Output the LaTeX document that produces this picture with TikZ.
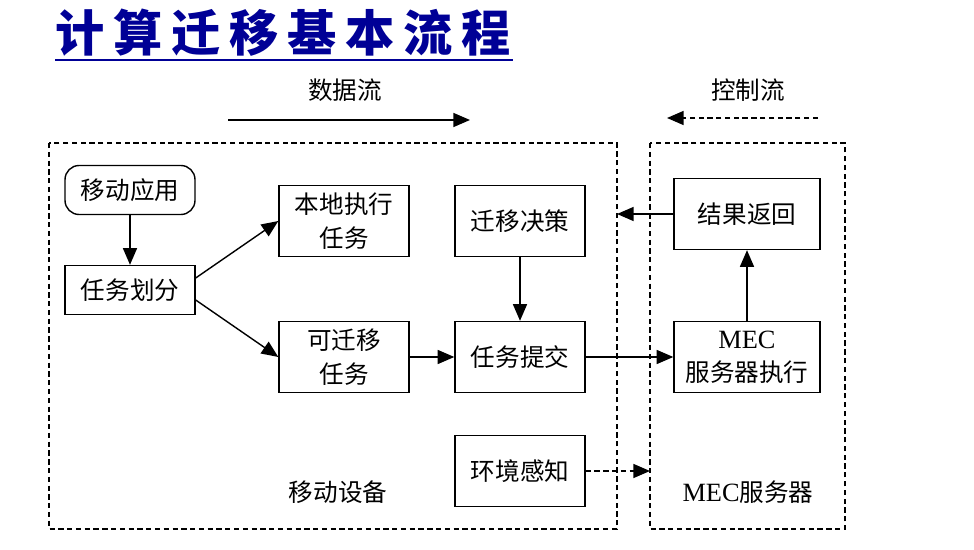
\documentclass[tikz,border=0pt]{standalone}
\usepackage{fontspec}
\usepackage{tikz}
\setmainfont{Liberation Serif}
\newfontfamily\cjkfont{Noto Sans CJK SC}
\newcommand{\zh}{\cjkfont\fontsize{14pt}{19pt}\selectfont}
\newcommand{\mec}{{\rmfamily\fontsize{15pt}{19pt}\selectfont MEC}}
\definecolor{titleblue}{RGB}{0,0,150}
\usetikzlibrary{arrows.meta}
\tikzset{
  >={Triangle[length=9.5pt,width=8pt]},
  box/.style={draw, line width=0.8pt, minimum width=2.6cm, minimum height=1.42cm, align=center, font=\zh},
  smallbox/.style={box, minimum height=0.98cm},
  areabox/.style={draw, line width=0.6pt, dash pattern=on 3pt off 2pt},
  flow/.style={->, line width=0.8pt},
  ctrl/.style={->, line width=0.8pt, dash pattern=on 3pt off 2pt},
  lbl/.style={font=\zh}
}

\begin{document}
\begin{tikzpicture}[x=0.02cm, y=-0.02cm]
    \useasboundingbox (0,0) rectangle (974,550);
    % title
    \node[font=\cjkfont\bfseries\fontsize{28pt}{32pt}\selectfont, text=titleblue] (title) at (283,33)
      {计\hspace{5pt}算\hspace{5pt}迁\hspace{5pt}移\hspace{5pt}基\hspace{5pt}本\hspace{5pt}流\hspace{5pt}程};
    \draw[titleblue, line width=1.6pt] (55,60) -- (513,60);
    % legend
    \node[lbl] (datalbl) at (345,90) {数据流};
    \coordinate (d1) at (228,120);
    \coordinate (d2) at (470,120);
    \draw[flow] (d1) -- (d2);
    \node[lbl] (ctrllbl) at (748,90) {控制流};
    \coordinate (c1) at (818,118);
    \coordinate (c2) at (667,118);
    \draw[ctrl] (c1) -- (c2);
    % areas
    \draw[areabox] (49,143) rectangle (617,529);
    \draw[areabox] (650,143) rectangle (845,529);
    \coordinate (leftedge) at (617,214);
    \coordinate (rightedge) at (650,471);
    % nodes
    \node[smallbox, rounded corners=8pt] (app) at (130,190) {移动应用};
    \node[smallbox] (split) at (130,290) {任务划分};
    \node[box] (local) at (344,221) {本地执行\\任务};
    \node[box] (mig) at (344,357) {可迁移\\任务};
    \node[box] (decide) at (520,221) {迁移决策};
    \node[box] (submit) at (520,357) {任务提交};
    \node[box] (sense) at (520,471) {环境感知};
    \node[box, minimum width=2.92cm] (result) at (747,214) {结果返回};
    \node[box, minimum width=2.92cm] (exec) at (747,357) {\mec\\服务器执行};
    \node[lbl] (mobile) at (338,492) {移动设备};
    \node[lbl] (server) at (748,492) {\mec 服务器};
    % connectors
    \draw[flow] ([yshift=0.24cm]split.east) -- (local.west);
    \draw[flow] ([yshift=-0.2cm]split.east) -- (mig.west);
    \draw[flow] (app) -- (split);
    \draw[flow] (mig) -- (submit);
    \draw[flow] (decide) -- (submit);
    \draw[flow] (submit) -- (exec);
    \draw[flow] (exec) -- (result);
    \draw[flow] (result) -- (leftedge);
    \draw[ctrl] (sense) -- (rightedge);
\end{tikzpicture}
\end{document}
